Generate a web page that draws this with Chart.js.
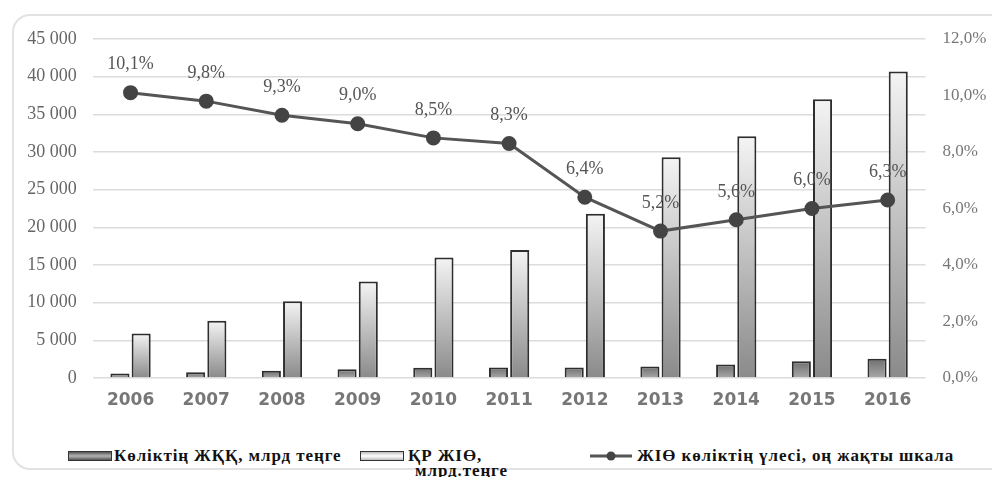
<!DOCTYPE html>
<html>
<head>
<meta charset="utf-8">
<script src="https://cdn.jsdelivr.net/npm/chart.js@4/dist/chart.umd.min.js"></script>
<style>
  html, body { margin: 0; padding: 0; background: #fff; }
  body { width: 992px; height: 477px; position: relative; overflow: hidden; }
  #frame { position: absolute; left: 12px; top: 14px; width: 1000px; height: 456px;
           border: 2px solid #e2e2e2; border-radius: 18px; box-sizing: border-box; }
  #wrap { position: absolute; left: 0; top: 0; width: 992px; height: 420px; }
  .lg { position: absolute; font-family: "Liberation Serif", serif; font-weight: bold;
        font-size: 17px; letter-spacing: 0.9px; color: #111; white-space: nowrap; line-height: 16px; }
  .box { position: absolute; width: 44px; height: 10px; border: 1.5px solid #333; box-sizing: border-box; }
</style>
</head>
<body>
<div id="frame"></div>
<div id="wrap"><canvas id="c" width="992" height="420"></canvas></div>

<div class="box" style="left:68px;top:451px;background:linear-gradient(to bottom,#555,#b5b5b5 50%,#555);"></div>
<div class="lg" id="l1" style="left:114px;top:448px;"></div>
<div class="box" style="left:360px;top:451px;background:linear-gradient(to bottom,#bbb,#fff 50%,#bbb);"></div>
<div class="lg" id="l2a" style="left:408px;top:448px;"></div>
<div class="lg" id="l2b" style="left:415px;top:463px;"></div>
<svg style="position:absolute;left:588px;top:449px;" width="46" height="14">
  <line x1="2" y1="7" x2="44" y2="7" stroke="#555" stroke-width="3"/>
  <circle cx="23" cy="7" r="4.5" fill="#444"/>
</svg>
<div class="lg" id="l3" style="left:637px;top:448px;"></div>

<script>
const years = ['2006','2007','2008','2009','2010','2011','2012','2013','2014','2015','2016'];
const transportGVA = [600, 750, 950, 1150, 1370, 1400, 1400, 1530, 1800, 2220, 2570];
const gdp = [5900, 7600, 10200, 12800, 16000, 17000, 21800, 29300, 32100, 37000, 40700];
const transportShare = [10.1, 9.8, 9.3, 9.0, 8.5, 8.3, 6.4, 5.2, 5.6, 6.0, 6.3];
const leftTickLabels = ['0','5 000','10 000','15 000','20 000','25 000','30 000','35 000','40 000','45 000'];
const rightTickLabels = ['0,0%','2,0%','4,0%','6,0%','8,0%','10,0%','12,0%'];
const seriesNames = ['Көліктің ЖҚҚ, млрд теңге', 'ҚР ЖІӨ,', 'млрд.теңге', 'ЖІӨ көліктің үлесі, оң жақты шкала'];

document.getElementById('l1').textContent = seriesNames[0];
document.getElementById('l2a').textContent = seriesNames[1];
document.getElementById('l2b').textContent = seriesNames[2];
document.getElementById('l3').textContent = seriesNames[3];

function barGrad(topCol, botCol) {
  return function(ctx) {
    const chart = ctx.chart;
    if (!chart.chartArea || ctx.raw === undefined) return botCol;
    const y = chart.scales.y;
    const t = y.getPixelForValue(ctx.raw), b = y.getPixelForValue(0);
    const g = chart.ctx.createLinearGradient(0, t, 0, b);
    g.addColorStop(0, topCol);
    g.addColorStop(1, botCol);
    return g;
  };
}

const labelPlugin = {
  id: 'pctLabels',
  afterDatasetsDraw(chart) {
    const meta = chart.getDatasetMeta(2);
    const c = chart.ctx;
    c.save();
    c.font = '18px "Liberation Serif", serif';
    c.fillStyle = '#555';
    c.textAlign = 'center';
    c.textBaseline = 'middle';
    meta.data.forEach((pt, i) => {
      c.fillText(transportShare[i].toFixed(1).replace('.', ',') + '%', pt.x, pt.y - 28);
    });
    c.restore();
  }
};

new Chart(document.getElementById('c'), {
  type: 'bar',
  data: {
    labels: years,
    datasets: [
      { label: seriesNames[0], data: transportGVA, yAxisID: 'y', order: 2,
        backgroundColor: barGrad('#6e6e6e', '#a8a8a8'), borderColor: '#2e2e2e', borderWidth: 2,
        barPercentage: 0.9, categoryPercentage: 0.56 },
      { label: seriesNames[1] + ' ' + seriesNames[2], data: gdp, yAxisID: 'y', order: 2,
        backgroundColor: barGrad('#f4f4f4', '#8a8a8a'), borderColor: '#2e2e2e', borderWidth: 2,
        barPercentage: 0.9, categoryPercentage: 0.56 },
      { type: 'line', label: seriesNames[3], data: transportShare, yAxisID: 'y1', order: 0,
        borderColor: '#555', borderWidth: 3, pointRadius: 6, pointBackgroundColor: '#444',
        pointBorderColor: '#444', tension: 0, fill: false }
    ]
  },
  options: {
    responsive: false,
    animation: false,
    layout: { padding: { top: 39, left: 0, right: 0, bottom: 0 } },
    plugins: { legend: { display: false }, tooltip: { enabled: false } },
    scales: {
      x: {
        grid: { display: false, drawTicks: false },
        border: { display: false },
        ticks: { color: '#777', padding: 12, font: { family: '"DejaVu Sans", sans-serif', weight: 'bold', size: 17 } },
        afterFit(s) { s.height = 42; }
      },
      y: {
        position: 'left', min: 0, max: 45000,
        grid: { color: '#dcdcdc', lineWidth: 1.5, drawTicks: false },
        border: { display: false },
        ticks: { stepSize: 5000, color: '#666', padding: 16,
                 font: { family: '"Liberation Serif", serif', size: 18 },
                 callback: (v, i) => leftTickLabels[i] },
        afterFit(s) { s.width = 92.7; }
      },
      y1: {
        position: 'right', min: 0, max: 12,
        grid: { display: false, drawTicks: false },
        border: { display: false },
        ticks: { stepSize: 2, color: '#777', padding: 17,
                 font: { family: '"Liberation Serif", serif', size: 17 },
                 callback: (v, i) => rightTickLabels[i] },
        afterFit(s) { s.width = 66.5; }
      }
    }
  },
  plugins: [labelPlugin]
});
</script>
</body>
</html>
